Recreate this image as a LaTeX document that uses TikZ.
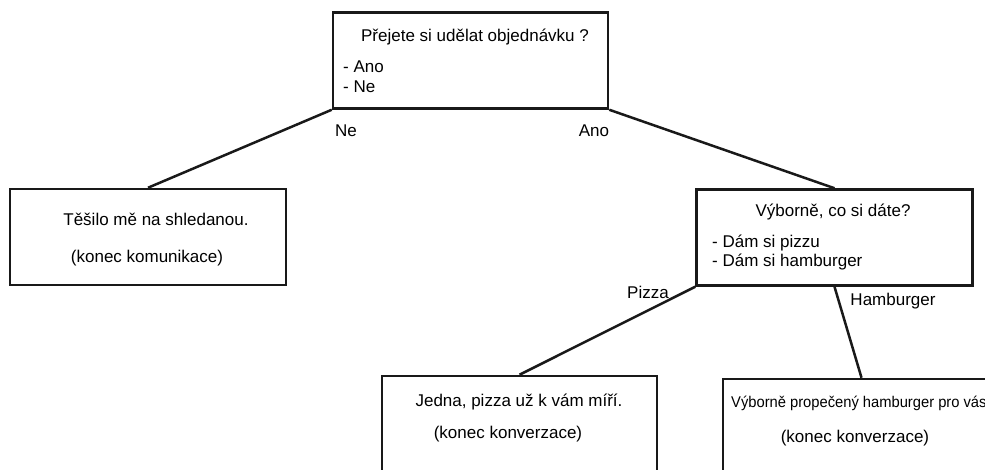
\documentclass[tikz,border=0pt]{standalone}
\usepackage{fontspec}
\setmainfont{Liberation Sans}
\begin{document}
\begin{tikzpicture}[x=1pt,y=-1pt,
  box/.style={draw=black!90, line width=2.5pt, rectangle, minimum width=#1, minimum height=96pt, inner sep=0pt},
  box/.default=276pt,
  txt/.style={inner sep=0pt, font=\fontsize{17}{19}\selectfont},
  smalltxt/.style={inner sep=0pt, font=\fontsize{15.5}{18}\selectfont},
  link/.style={draw=black!90, line width=2.5pt},
  lab/.style={inner sep=0pt, font=\fontsize{17}{19}\selectfont}]
\useasboundingbox (0,0) rectangle (985,470);
\clip (0,0) rectangle (985,470);
\fill[white] (0,0) rectangle (985,470);

% question boxes
\node[box=275pt] (q1) at (470.5,60.5) {};
\node[box] (bye) at (148,237) {};
\node[box=276pt] (q2) at (834.5,237.5) {};
\node[box=275pt] (pizza) at (519.5,424) {};
\node[box=277pt] (burger) at (861.5,427) {};

% texts in the first question
\node[txt, anchor=base] (q1t) at (475,42) {Přejete si udělat objednávku ?};
\node[txt, anchor=base west] (q1a) at (343,73) {- Ano};
\node[txt, anchor=base west] (q1b) at (343,93) {- Ne};

% farewell
\node[txt, anchor=base] (byet) at (156,226) {Těšilo mě na shledanou.};
\node[txt, anchor=base] (byee) at (147,263) {(konec komunikace)};

% second question
\node[txt, anchor=base] (q2t) at (833,217) {Výborně, co si dáte?};
\node[txt, anchor=base west] (q2a) at (712,248) {- Dám si pizzu};
\node[txt, anchor=base west] (q2b) at (712,267) {- Dám si hamburger};

% pizza answer
\node[txt, anchor=base] (pizzat) at (519,406) {Jedna, pizza už k vám míří.};
\node[txt, anchor=base] (pizzae) at (508,438) {(konec konverzace)};

% hamburger answer
\node[smalltxt, anchor=base west] (burgert) at (731,407) {\scalebox{0.95}[1]{Výborně propečený hamburger pro vás}};
\node[txt, anchor=base] (burgere) at (855,442) {(konec konverzace)};

% connectors
\draw[link] (q1.south west) -- (bye.north);
\draw[link] (q1.south east) -- (q2.north);
\draw[link] (q2.south west) -- (pizza.north);
\draw[link] (q2.south) -- (burger.north);

% connector labels
\node[lab] (lne) at (346,131) {Ne};
\node[lab] (lano) at (594,131) {Ano};
\node[lab] (lpizza) at (648,292) {Pizza};
\node[lab] (lburger) at (893,301) {Hamburger};
\end{tikzpicture}
\end{document}
